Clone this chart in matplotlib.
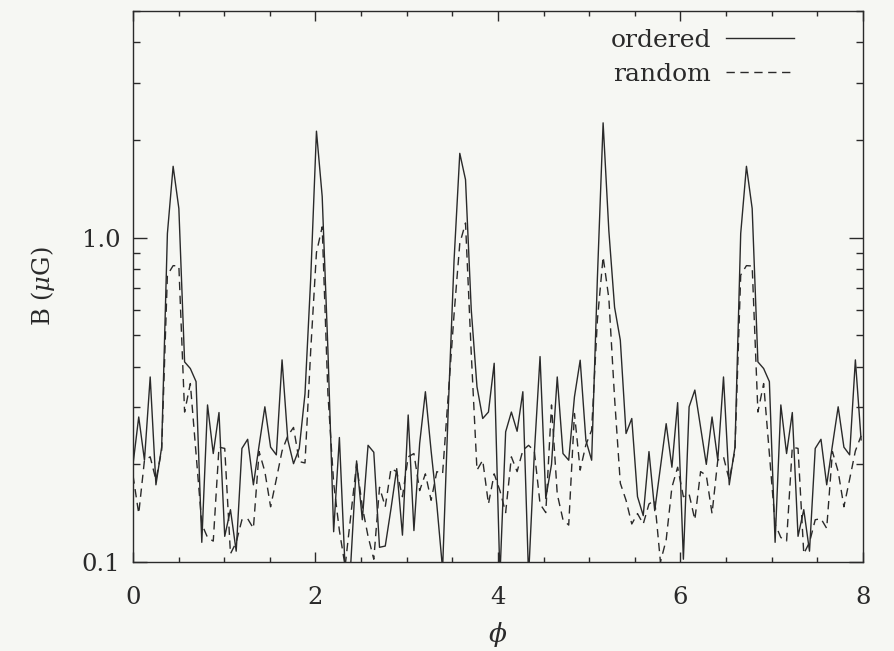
import numpy as np
import matplotlib.pyplot as plt

# B field along the azimuth, one sample every 2*pi/100
ordered = [0.20, 0.28, 0.206, 0.372, 0.173, 0.226, 1.03, 1.66, 1.23, 0.414,
           0.395, 0.36, 0.115, 0.305, 0.216, 0.289, 0.12, 0.145, 0.108, 0.224,
           0.239, 0.173, 0.229, 0.301, 0.226, 0.214, 0.42, 0.238, 0.201, 0.224,
           0.33, 0.75, 2.13, 1.34, 0.45, 0.124, 0.242, 0.095, 0.10, 0.205,
           0.135, 0.229, 0.218, 0.111, 0.112, 0.146, 0.194, 0.121, 0.284, 0.125,
           0.232, 0.335, 0.22, 0.15, 0.095, 0.30, 0.85, 1.82, 1.51, 0.60,
           0.347, 0.277, 0.29, 0.41, 0.09, 0.252, 0.29, 0.253, 0.335, 0.09,
           0.216, 0.43, 0.157, 0.20, 0.372, 0.216, 0.206, 0.323, 0.419, 0.237,
           0.206, 0.75, 2.26, 1.05, 0.61, 0.483, 0.249, 0.277, 0.159, 0.139,
           0.219, 0.144, 0.196, 0.267, 0.196, 0.31, 0.102, 0.301, 0.339, 0.261,
           0.20, 0.28, 0.206, 0.372, 0.173, 0.226, 1.03, 1.66, 1.23, 0.414,
           0.395, 0.36, 0.115, 0.305, 0.216, 0.289, 0.12, 0.145, 0.108, 0.224,
           0.239, 0.173, 0.229, 0.301, 0.226, 0.214, 0.42, 0.238]

random_ = [0.185, 0.141, 0.206, 0.211, 0.179, 0.221, 0.767, 0.82, 0.818, 0.29,
           0.355, 0.216, 0.131, 0.119, 0.116, 0.226, 0.224, 0.106, 0.115, 0.135,
           0.136, 0.127, 0.219, 0.19, 0.148, 0.18, 0.22, 0.245, 0.26, 0.204,
           0.202, 0.45, 0.90, 1.08, 0.33, 0.175, 0.125, 0.097, 0.14, 0.201,
           0.148, 0.12, 0.102, 0.17, 0.148, 0.194, 0.19, 0.159, 0.211, 0.216,
           0.166, 0.187, 0.155, 0.19, 0.187, 0.33, 0.58, 0.96, 1.11, 0.44,
           0.192, 0.206, 0.151, 0.187, 0.166, 0.142, 0.211, 0.19, 0.221, 0.229,
           0.22, 0.151, 0.142, 0.305, 0.162, 0.135, 0.13, 0.287, 0.192, 0.23,
           0.255, 0.557, 0.873, 0.65, 0.32, 0.175, 0.155, 0.131, 0.141, 0.131,
           0.151, 0.155, 0.10, 0.117, 0.17, 0.196, 0.159, 0.162, 0.135, 0.19,
           0.185, 0.141, 0.206, 0.211, 0.179, 0.221, 0.767, 0.82, 0.818, 0.29,
           0.355, 0.216, 0.131, 0.119, 0.116, 0.226, 0.224, 0.106, 0.115, 0.135,
           0.136, 0.127, 0.219, 0.19, 0.148, 0.18, 0.22, 0.245]

phi = np.arange(len(ordered)) * 2 * np.pi / 100

xticks = [0, 2, 4, 6, 8]
yticks = [0.1, 1.0]
yticklabels = ['0.1', '1.0']

bg = '#f6f7f3'
ink = '#2a2a2a'

plt.rcParams['font.family'] = 'DejaVu Serif'
plt.rcParams['mathtext.fontset'] = 'dejavuserif'

fig = plt.figure(figsize=(8.95, 6.51), dpi=100, facecolor=bg)
ax = fig.add_axes([0.1486, 0.1367, 0.8156, 0.8464], facecolor=bg)

ax.plot(phi, ordered, color=ink, lw=1.0, label='ordered')
ax.plot(phi, random_, color=ink, lw=1.0, dashes=(6, 4), label='random')

ax.set_yscale('log')
ax.set_xlim(0, 8)
ax.set_ylim(0.1, 5.0)

ax.set_xticks(xticks)
ax.set_xticklabels([str(t) for t in xticks])
ax.set_xticks(np.arange(0, 8.01, 0.5), minor=True)
ax.set_yticks(yticks)
ax.set_yticklabels(yticklabels)
ax.yaxis.set_minor_locator(plt.matplotlib.ticker.LogLocator(base=10, subs=np.arange(2, 10)))
ax.yaxis.set_minor_formatter(plt.NullFormatter())

ax.tick_params(axis='both', which='both', direction='in', top=True, right=True,
               colors=ink, labelsize=17.5, width=1.0)
ax.tick_params(axis='x', which='major', length=7.2, pad=17)
ax.tick_params(axis='x', which='minor', length=3.6)
ax.tick_params(axis='y', which='major', length=10, pad=9)
ax.tick_params(axis='y', which='minor', length=5)
for s in ax.spines.values():
    s.set_color(ink)
    s.set_linewidth(1.0)

ax.set_xlabel(r'$\phi$', fontsize=19, color=ink, labelpad=8)
ax.set_ylabel(r'B ($\mu$G)', fontsize=17.5, color=ink, labelpad=18)

leg = ax.legend(loc='upper right', bbox_to_anchor=(0.905, 0.968), frameon=False,
                markerfirst=False, fontsize=18, handlelength=2.7, handletextpad=0.6,
                labelspacing=0.45, borderpad=0, borderaxespad=0)
for t in leg.get_texts():
    t.set_color(ink)

fig.savefig('out.png', dpi=100, facecolor=bg)
